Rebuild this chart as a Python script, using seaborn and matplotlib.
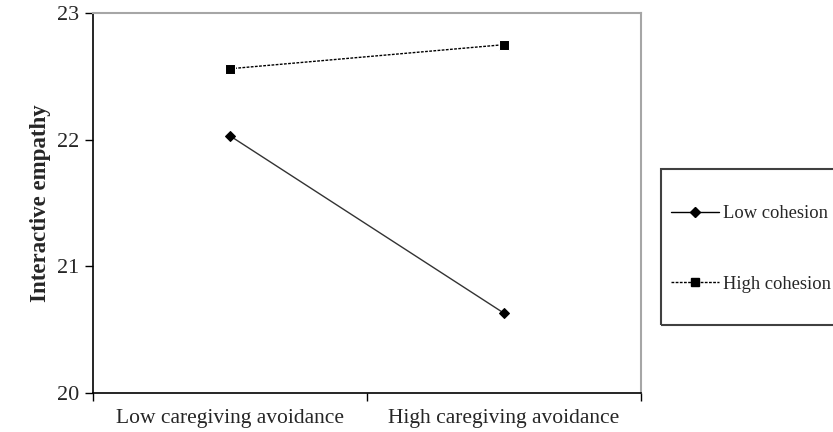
import pandas as pd
import seaborn as sns
import matplotlib.pyplot as plt
from matplotlib.patches import Rectangle
from matplotlib.ticker import FixedLocator

# values
conditions = ['Low caregiving avoidance', 'High caregiving avoidance']
low_cohesion = [22.03, 20.63]
high_cohesion = [22.56, 22.75]
y_ticks = [20, 21, 22, 23]

df = pd.DataFrame({
    'avoidance': conditions * 2,
    'empathy': low_cohesion + high_cohesion,
    'group': ['Low cohesion'] * 2 + ['High cohesion'] * 2,
})

sns.set_style('white')
plt.rcParams['font.family'] = ['Liberation Serif', 'DejaVu Serif']

fig = plt.figure(figsize=(8.33, 4.32), dpi=100)
ax = fig.add_axes([93 / 833, 1 - 393 / 432, (641 - 93) / 833, (393 - 13) / 432])

sns.lineplot(data=df, x='avoidance', y='empathy', hue='group', style='group',
             palette={'Low cohesion': 'black', 'High cohesion': 'black'},
             dashes={'Low cohesion': '', 'High cohesion': (2, 1)},
             markers={'Low cohesion': 'D', 'High cohesion': 's'},
             markersize=5, linewidth=1, ax=ax, legend=False)
ax.lines[0].set_color('#333333')
ax.lines[0].set_markerfacecolor('black')
ax.lines[0].set_markeredgecolor('black')
ax.lines[0].set_markersize(5.5)
ax.lines[1].set_markersize(6.5)

ax.set_xlim(-0.5, 1.5)
ax.set_ylim(20, 23)
ax.set_yticks(y_ticks)
ax.xaxis.set_major_locator(FixedLocator([0, 1]))
ax.xaxis.set_minor_locator(FixedLocator([-0.5, 0.5, 1.5]))
ax.tick_params(axis='x', which='major', bottom=False, labelsize=15.5, pad=8)
ax.tick_params(axis='x', which='minor', bottom=True, length=6, width=1,
               color='black', direction='out')
ax.tick_params(axis='y', left=True, length=6, width=1, color='black',
               direction='out', labelsize=16, pad=4)
ax.set_xticklabels(conditions)
ax.set_xlabel('')
ax.set_ylabel('Interactive empathy', fontsize=16.5, fontweight='bold')
ax.yaxis.set_label_coords(-42 / 548, 0.5)

for side in ['left', 'bottom']:
    ax.spines[side].set_color('black')
    ax.spines[side].set_linewidth(1.2)
for side in ['top', 'right']:
    ax.spines[side].set_color('#a6a6a6')
    ax.spines[side].set_linewidth(1.5)

# legend box drawn by hand so it can run off the right edge like the reference
fig.patches.append(Rectangle((661 / 833, 1 - 325 / 432), 0.3, (325 - 169) / 432,
                             transform=fig.transFigure, fill=False,
                             edgecolor='#404040', linewidth=1.5))
handles = [
    plt.Line2D([], [], color='black', lw=1, marker='D', markersize=5),
    plt.Line2D([], [], color='black', lw=1, ls=(0, (2, 1)), marker='s', markersize=6),
]
leg = fig.legend(handles, ['Low cohesion', 'High cohesion'],
                 loc='upper left', bbox_to_anchor=(671 / 833, 1 - 205 / 432),
                 fontsize=13.3, frameon=False,
                 handlelength=2.6, handletextpad=0.2, labelspacing=2.9,
                 borderpad=0, borderaxespad=0)

fig.savefig('out.png', dpi=100)
